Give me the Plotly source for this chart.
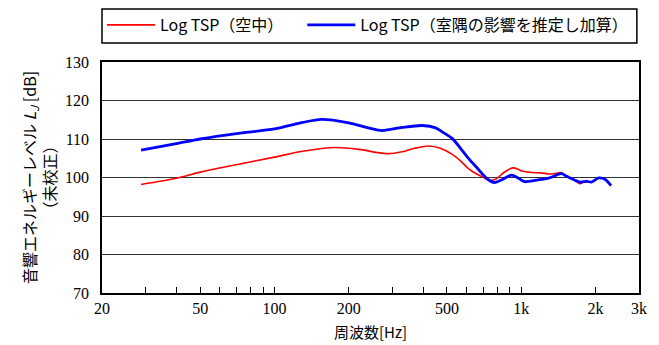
import plotly.graph_objects as go

# Frequency response, air-only measurement
freq_air = [28.8, 40, 50, 70, 100, 130, 175, 220, 260, 290, 329, 370, 423, 470, 526,
            570, 616, 660, 698, 743, 790, 850, 925, 980, 1014, 1100, 1200, 1306,
            1400, 1452, 1520, 1577, 1650, 1730, 1800, 1845, 1925, 2060, 2190, 2310]
level_air = [98.2, 99.8, 101.4, 103.3, 105.3, 106.8, 107.8, 107.3, 106.5, 106.2, 106.7,
             107.6, 108.2, 107.6, 106.0, 104.2, 102.1, 100.9, 100.1, 99.3, 99.6, 101.3,
             102.5, 102.0, 101.6, 101.3, 101.2, 100.9, 101.1, 101.3, 100.4, 99.9, 99.3,
             98.4, 98.9, 99.0, 98.8, 99.9, 99.5, 97.9]

# Frequency response with estimated room-corner boost added
freq_corner = [28.8, 40, 50, 70, 100, 130, 155, 200, 240, 273, 329, 397, 450, 480, 526,
               570, 616, 660, 698, 740, 780, 840, 912, 970, 1014, 1033, 1150, 1300,
               1452, 1520, 1577, 1650, 1730, 1845, 1925, 2060, 2190, 2310]
level_corner = [107.1, 108.8, 110.0, 111.4, 112.6, 114.3, 115.1, 114.2, 112.9, 112.2,
                113.0, 113.5, 112.9, 111.8, 110.1, 107.4, 104.7, 102.6, 100.8, 99.3,
                98.7, 99.5, 100.6, 99.9, 99.1, 98.9, 99.3, 99.9, 101.0, 100.4, 99.9,
                99.3, 98.8, 99.0, 98.8, 99.9, 99.5, 97.9]

x_tick_vals = [20, 50, 100, 200, 500, 1000, 2000, 3000]
x_tick_text = ["20", "50", "100", "200", "500", "1k", "2k", "3k"]
x_minor_vals = [30, 40, 60, 70, 80, 90, 300, 400, 600, 700, 800, 900]
y_tick_vals = [70, 80, 90, 100, 110, 120, 130]

jp_font = "Noto Sans CJK JP"
num_font = "Liberation Serif, Times New Roman, serif"

# plot area: 102..639 px horizontally, 62..293 px vertically
plot_h = 231

fig = go.Figure()
fig.add_trace(go.Scatter(
    x=freq_air, y=level_air, mode="lines",
    line=dict(color="#ff0000", width=1.6, shape="spline", smoothing=0.8),
    name="Log TSP（空中）", legend="legend",
))
fig.add_trace(go.Scatter(
    x=freq_corner, y=level_corner, mode="lines",
    line=dict(color="#0000ff", width=2.8, shape="spline", smoothing=0.8),
    name="Log TSP（室隅の影響を推定し加算）", legend="legend2",
))

legend_common = dict(
    orientation="h", xanchor="left", y=1 + (62 - 25) / plot_h, yanchor="middle",
    font=dict(family=jp_font, size=16, color="black"),
    bgcolor="rgba(0,0,0,0)", borderwidth=0, itemwidth=48,
)

fig.update_layout(
    width=659, height=345,
    margin=dict(l=102, r=20, t=62, b=52, autoexpand=False),
    paper_bgcolor="white", plot_bgcolor="white",
    showlegend=True,
    legend=dict(x=0.0, **legend_common),
    legend2=dict(x=0.373, **legend_common),
    shapes=[dict(
        type="rect", xref="paper", yref="paper",
        x0=0.0, x1=0.996,
        y0=1 + (62 - 43) / plot_h, y1=1 + (62 - 9) / plot_h,
        line=dict(color="black", width=1.5), fillcolor="rgba(0,0,0,0)",
    )],
)

fig.update_xaxes(
    type="log", range=[1.30103, 3.4771213], automargin=False,
    tickmode="array", tickvals=x_tick_vals, ticktext=x_tick_text,
    ticks="inside", ticklen=6, tickcolor="black", tickwidth=1,
    minor=dict(tickvals=x_minor_vals, ticks="inside", ticklen=6,
               tickcolor="black", tickwidth=1, showgrid=False),
    showgrid=False, zeroline=False,
    showline=True, linecolor="black", linewidth=1.5, mirror=True,
    tickfont=dict(family=num_font, size=16, color="black"),
    title=dict(text="周波数[Hz]", font=dict(family=jp_font, size=15, color="black"),
               standoff=12),
)
fig.update_yaxes(
    range=[70, 130], tickmode="array", tickvals=y_tick_vals, automargin=False,
    ticks="", showgrid=True, gridcolor="#333333", gridwidth=1,
    zeroline=False, ticklabelstandoff=8,
    showline=True, linecolor="black", linewidth=1.5, mirror=True,
    tickfont=dict(family=num_font, size=16, color="black"),
    title=dict(
        text="音響エネルギーレベル <i>L</i><sub><i>J</i></sub> [dB]<br>（未校正）",
        font=dict(family=jp_font, size=16, color="black"), standoff=4,
    ),
)

fig.write_html("out.html")
